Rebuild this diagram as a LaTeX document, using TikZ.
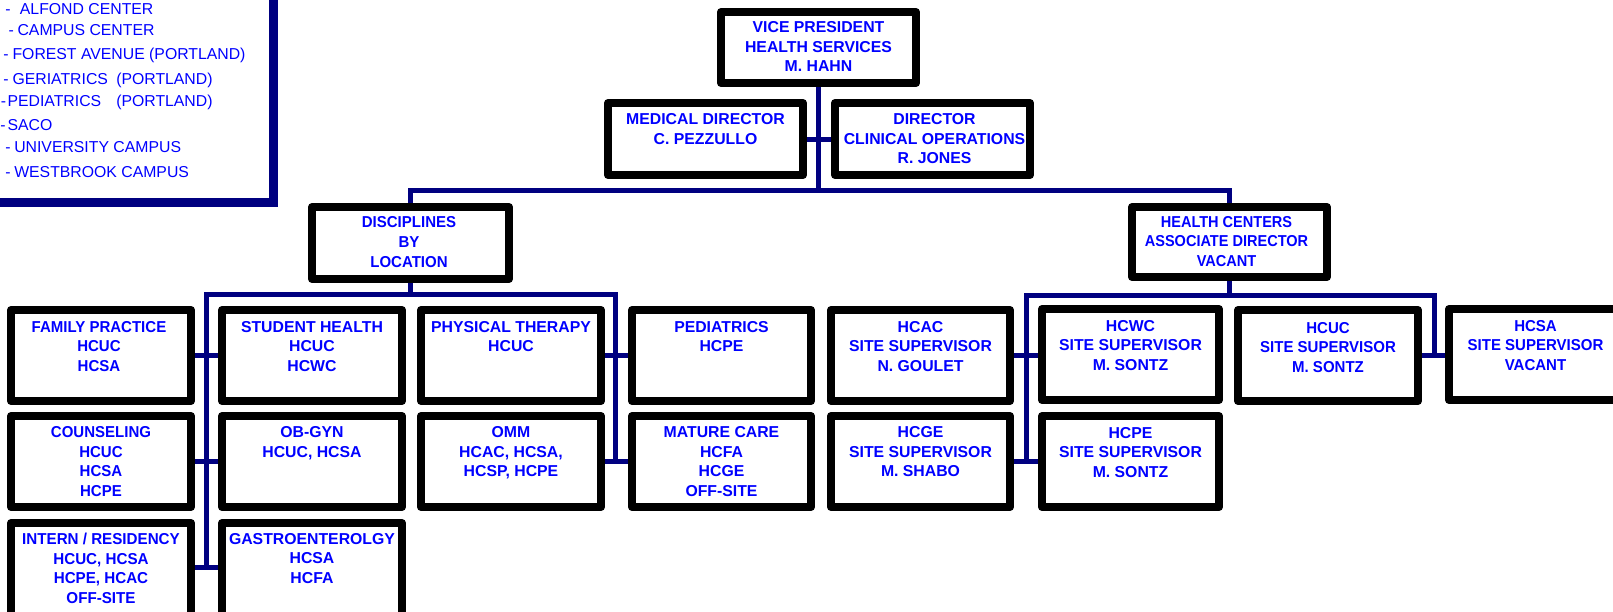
\documentclass[tikz,border=0pt]{standalone}
\usepackage{fontspec}
\setmainfont{Liberation Sans}
\newfontfamily\nnf[FakeStretch=0.95]{Liberation Sans}
\newfontfamily\nmf[FakeStretch=0.92]{Liberation Sans}
\newfontfamily\nqf[FakeStretch=0.96]{Liberation Sans}
\definecolor{tblue}{RGB}{0,0,255}
\definecolor{lnavy}{RGB}{0,0,128}
\pgfdeclarelayer{bg}
\pgfdeclarelayer{mid}
\pgfsetlayers{bg,mid,main}
\tikzset{
  obx/.style={draw=black, line width=8pt, line join=round, inner sep=0pt, outer sep=0pt},
  lbl/.style={align=center, inner sep=0pt, outer sep=0pt, text=tblue, anchor=north},
  leg/.style={inner sep=0pt, outer sep=0pt, text=tblue, anchor=base west, font=\fontsize{15.8}{19}\selectfont},
  conn/.style={draw=lnavy, line width=5pt, line join=miter, line cap=rect},
}
\newcommand\obox[9]{%
  \node[obx, minimum width={#4-#2-8}, minimum height={#5-#3-8}] (#1) at ({(#2+#4)/2},{(#3+#5)/2}) {};
  \begin{pgfonlayer}{mid}
    \node[lbl, font={\fontsize{15.8}{19.5}\selectfont\bfseries#8}] (#1t) at ({(#2+#4)/2+#7},{#6-5.65}) {#9};
  \end{pgfonlayer}}
\begin{document}
\begin{tikzpicture}[x=1pt,y=-1pt]
\useasboundingbox (0,0) rectangle (1613,611);
\clip (0,0) rectangle (1613,611);
% legend
\draw[lnavy, line width=9pt] (-20,-20) rectangle (273.8,202.8);
\node[leg] (lg1) at (5.3,14) {-\hspace{9.4pt}ALFOND CENTER};
\node[leg] (lg2) at (8.6,35) {-\hspace{3.7pt}CAMPUS CENTER};
\node[leg] (lg3) at (3.3,59) {-\hspace{4pt}FOREST AVENUE (PORTLAND)};
\node[leg] (lg4) at (3.3,84.4) {-\hspace{4pt}GERIATRICS};
\node[leg] (lg4b) at (116.3,84.4) {(PORTLAND)};
\node[leg] (lg5) at (1.0,106.4) {-\hspace{1.3pt}PEDIATRICS};
\node[leg] (lg5b) at (116.3,106.4) {(PORTLAND)};
\node[leg] (lg6) at (0.3,130) {-\hspace{2pt}SACO};
\node[leg] (lg7) at (5.3,152.4) {-\hspace{3.7pt}UNIVERSITY CAMPUS};
\node[leg] (lg8) at (5.3,177.4) {-\hspace{3.7pt}WESTBROOK CAMPUS};
% boxes
\obox{vp}{717}{8}{920}{87}{27.3}{0}{}{VICE PRESIDENT\\HEALTH SERVICES\\M. HAHN}
\obox{md}{604}{99}{807}{179}{119.3}{0}{}{MEDICAL DIRECTOR\\C. PEZZULLO}
\obox{dir}{831}{99}{1034}{179}{119.3}{2}{}{DIRECTOR\\CLINICAL OPERATIONS\\R. JONES}
\obox{disc}{308}{203}{513}{283}{221.7}{-1.5}{\nnf\fontsize{15.8}{20}\selectfont}{DISCIPLINES\\BY\\LOCATION}
\obox{hc}{1128}{203}{1331}{281}{221.7}{-3}{\nmf}{HEALTH CENTERS\\ASSOCIATE DIRECTOR\\VACANT}
\obox{fp}{7}{306}{195}{405}{326.7}{-2}{\nnf}{FAMILY PRACTICE\\HCUC\\HCSA}
\obox{sh}{218}{306}{406}{405}{326.7}{0}{}{STUDENT HEALTH\\HCUC\\HCWC}
\obox{pt}{417}{306}{605}{405}{326.7}{0}{}{PHYSICAL THERAPY\\HCUC}
\obox{ped}{628}{306}{815}{405}{326.7}{0}{}{PEDIATRICS\\HCPE}
\obox{hcac}{827}{306}{1014}{405}{326.7}{0}{}{HCAC\\SITE SUPERVISOR\\N. GOULET}
\obox{hcwc}{1038}{305}{1223}{404}{325.7}{0}{}{HCWC\\SITE SUPERVISOR\\M. SONTZ}
\obox{hcuc}{1234}{306}{1422}{405}{327.7}{0}{\nnf}{HCUC\\SITE SUPERVISOR\\M. SONTZ}
\obox{hcsa}{1445}{305}{1626}{404}{325.7}{0}{\nnf}{HCSA\\SITE SUPERVISOR\\VACANT}
\obox{cou}{7}{412}{195}{511}{432.3}{0}{\nnf}{COUNSELING\\HCUC\\HCSA\\HCPE}
\obox{ob}{218}{412}{406}{511}{432.3}{0}{}{OB-GYN\\HCUC, HCSA}
\obox{omm}{417}{412}{605}{511}{432.3}{0}{}{OMM\\HCAC, HCSA,\\HCSP, HCPE}
\obox{mc}{628}{412}{815}{511}{432.3}{0}{}{MATURE CARE\\HCFA\\HCGE\\OFF-SITE}
\obox{hcge}{827}{412}{1014}{511}{432.3}{0}{}{HCGE\\SITE SUPERVISOR\\M. SHABO}
\obox{hcpe}{1038}{412}{1223}{511}{432.7}{0}{}{HCPE\\SITE SUPERVISOR\\M. SONTZ}
\obox{intern}{7}{519}{195}{624}{539}{0}{\nqf}{INTERN / RESIDENCY\\HCUC, HCSA\\HCPE, HCAC\\OFF-SITE}
\obox{gas}{218}{519}{406}{624}{539}{0}{}{GASTROENTEROLGY\\HCSA\\HCFA}
% connectors
\begin{pgfonlayer}{bg}
\coordinate (bar) at (818.7,190.5);
\coordinate (dl) at (206.7,294);
\coordinate (dr) at (615,294);
\coordinate (hl) at (1026.6,295);
\coordinate (hr) at (1434,295);
\coordinate (r3) at (0,567.5);
\draw[conn] (vp.south) -- (vp.south |- bar);
\draw[conn] (disc.north) |- (bar) -| (hc.north);
\draw[conn] (md.east) -- (dir.west);
\draw[conn] (disc.south) -- (disc.south |- dl);
\draw[conn] (dl |- r3) -- (dl) -- (dr) -- (dr |- omm.east);
\draw[conn] (fp.east) -- (sh.west);
\draw[conn] (cou.east) -- (ob.west);
\draw[conn] (intern.east |- r3) -- (gas.west |- r3);
\draw[conn] (pt.east) -- (ped.west);
\draw[conn] (omm.east) -- (mc.west);
\draw[conn] (hc.south) -- (hc.south |- hl);
\draw[conn] (hl |- hcge.east) -- (hl) -- (hr) -- (hr |- hcuc.east);
\draw[conn] (hcac.east) -- (hcac.east -| hcwc.west);
\draw[conn] (hcge.east) -- (hcpe.west);
\draw[conn] (hcuc.east) -- (hcuc.east -| hcsa.west);
\end{pgfonlayer}
\end{tikzpicture}
\end{document}
